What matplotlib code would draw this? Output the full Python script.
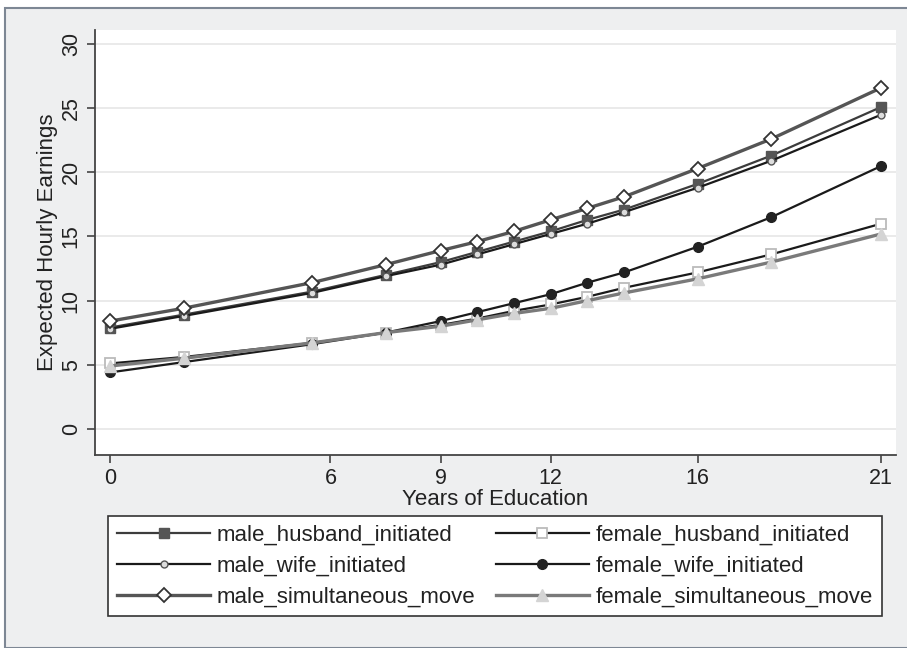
import matplotlib
matplotlib.use("Agg")
import matplotlib.pyplot as plt
from matplotlib.patches import Rectangle

years = [0, 2, 5.5, 7.5, 9, 10, 11, 12, 13, 14, 16, 18, 21]
male_husband_initiated = [7.9, 8.9, 10.7, 12.0, 13.0, 13.8, 14.6, 15.4, 16.3, 17.1, 19.1, 21.3, 25.1]
male_wife_initiated = [7.8, 8.8, 10.6, 11.9, 12.8, 13.6, 14.4, 15.2, 16.0, 16.9, 18.8, 20.9, 24.5]
male_simultaneous_move = [8.4, 9.4, 11.4, 12.8, 13.9, 14.6, 15.4, 16.3, 17.2, 18.1, 20.3, 22.6, 26.6]
female_husband_initiated = [5.1, 5.6, 6.7, 7.5, 8.1, 8.6, 9.2, 9.7, 10.3, 11.0, 12.2, 13.6, 16.0]
female_wife_initiated = [4.4, 5.2, 6.6, 7.5, 8.4, 9.1, 9.8, 10.5, 11.4, 12.2, 14.2, 16.5, 20.5]
female_simultaneous_move = [4.9, 5.5, 6.7, 7.5, 8.0, 8.5, 9.0, 9.4, 10.0, 10.6, 11.7, 13.0, 15.2]

x_ticks = [0, 6, 9, 12, 16, 21]
y_ticks = [0, 5, 10, 15, 20, 25, 30]

plt.rcParams['font.family'] = ['Liberation Sans', 'DejaVu Sans']

W, H = 907, 648
fig = plt.figure(figsize=(W / 100, H / 100), dpi=100)
fig.patch.set_facecolor('white')
fig.patches.append(Rectangle((5 / W, 0), 1, 1 - 8 / H, transform=fig.transFigure,
                             facecolor='#eeeff0', edgecolor='#7d8794', linewidth=1.5, zorder=-10))

ax = fig.add_axes([95 / W, 1 - 455 / H, (896 - 95) / W, (455 - 30) / H])
ax.set_facecolor('white')

series = [
    (male_husband_initiated, 'male_husband_initiated',
     dict(color='#3c3c3c', lw=1.6, marker='s', ms=7, mfc='#555555', mec='#555555')),
    (male_wife_initiated, 'male_wife_initiated',
     dict(color='#1a1a1a', lw=1.6, marker='o', ms=5, mfc='#dddddd', mec='#555555', mew=1)),
    (male_simultaneous_move, 'male_simultaneous_move',
     dict(color='#555555', lw=2.4, marker='D', ms=7, mfc='white', mec='#333333', mew=1.3)),
    (female_husband_initiated, 'female_husband_initiated',
     dict(color='#1a1a1a', lw=1.6, marker='s', ms=7, mfc='white', mec='#bbbbbb', mew=1.3)),
    (female_wife_initiated, 'female_wife_initiated',
     dict(color='#1a1a1a', lw=1.6, marker='o', ms=7, mfc='#222222', mec='#222222')),
    (female_simultaneous_move, 'female_simultaneous_move',
     dict(color='#7a7a7a', lw=2.4, marker='^', ms=8, mfc='#d4d4d4', mec='#d4d4d4')),
]

handles = []
for vals, name, kw in series:
    h, = ax.plot(years, vals, label=name, zorder=3, **kw)
    handles.append(h)

ax.set_xlim(-0.41, 21.4)
ax.set_ylim(-2.04, 31.1)
ax.set_xticks(x_ticks)
ax.set_yticks(y_ticks)
ax.grid(axis='y', color='#e6e6e6', lw=1.2, zorder=0)
ax.set_axisbelow(True)
for s in ['top', 'right']:
    ax.spines[s].set_visible(False)
for s in ['left', 'bottom']:
    ax.spines[s].set_color('#444444')
    ax.spines[s].set_linewidth(1.3)
ax.tick_params(axis='both', direction='out', length=6, width=1.2, colors='#444444',
               labelsize=15.5, labelcolor='#222222')
for lab in ax.get_yticklabels():
    lab.set_rotation(90)
    lab.set_va('center')
ax.set_xlabel('Years of Education', fontsize=16, color='#222222', labelpad=0)
ax.set_ylabel('Expected Hourly Earnings', fontsize=16, color='#222222', labelpad=2)

leg = fig.legend(handles=handles, loc='center', ncol=2,
                 bbox_to_anchor=(97 / W, 1 - 616 / H, (893 - 97) / W, (616 - 516) / H),
                 mode='expand', fontsize=16, handlelength=4.2, handletextpad=0.3,
                 labelspacing=0.45, borderpad=0.4, columnspacing=1.5,
                 frameon=True, fancybox=False, edgecolor='#333333', framealpha=1)
leg.get_frame().set_linewidth(1.2)
for t in leg.get_texts():
    t.set_color('#222222')

fig.savefig('out.png', dpi=100, facecolor=fig.get_facecolor())
